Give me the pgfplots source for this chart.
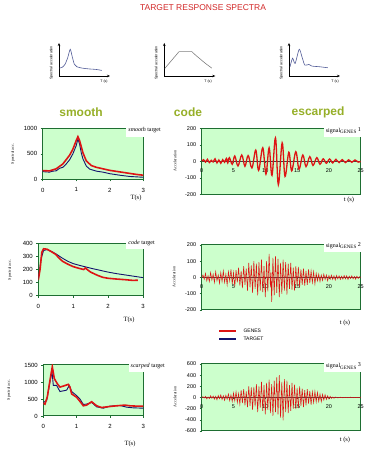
\documentclass[border=0pt]{standalone}
\usepackage{fontspec}
\setmainfont{Liberation Serif}
\setsansfont{Liberation Sans}
\usepackage{pgfplots}
\pgfplotsset{compat=1.18}
\usetikzlibrary{arrows.meta}
\definecolor{bggreen}{RGB}{204,255,204}
\definecolor{framegreen}{RGB}{30,110,50}
\definecolor{olivelab}{RGB}{150,175,40}
\definecolor{genesred}{RGB}{222,20,20}
\definecolor{targetblue}{RGB}{20,20,110}
\definecolor{titlered}{RGB}{210,40,40}
\definecolor{sketchblue}{RGB}{80,90,150}

\pgfplotsset{
  sketch/.style={scale only axis, anchor=south west, width=51pt, height=33pt,
    xmin=0, xmax=1, ymin=0, ymax=1, axis lines=left,
    axis line style={-{Stealth[length=3pt,width=2.5pt]}, line width=0.8pt},
    xtick=\empty, ytick=\empty, clip=false},
  panel/.style={scale only axis, anchor=south west,
    axis line style={framegreen, line width=1pt},
    tick style={framegreen, line width=0.5pt},
    tick align=outside, major tick length=2pt,
    /pgf/number format/1000 sep={},
    /pgf/number format/assume math mode=true},
  leftpanel/.style={panel,
    axis background/.style={fill=bggreen},
    xmin=0, xmax=3, xtick={0,1,2,3}, xtick pos=left, ytick pos=left,
    tick label style={font=\sffamily\fontsize{6}{7}\selectfont},
    xticklabel style={yshift=-3pt}},
  rightpanel/.style={panel,
    axis background/.style={fill=bggreen, draw=framegreen, line width=1pt},
    axis x line*=middle, axis y line*=left,
    x axis line style={black!75, line width=0.6pt},
    hide obscured x ticks=false,
    xmin=0, xmax=25, xtick={0,5,10,15,20,25},
    tick label style={font=\sffamily\fontsize{5.5}{6.5}\selectfont},
    xticklabel style={yshift=-2pt}},
}

\begin{document}
\begin{tikzpicture}[x=1pt,y=1pt]
\path (0,0) rectangle (385,457);

\node[text=titlered, font=\sffamily\fontsize{8.5}{10}\selectfont] at (203,449) {TARGET RESPONSE SPECTRA};

% ---------- sketches ----------
\begin{axis}[sketch, at={(59pt,381pt)}]
\addplot[sketchblue, line width=0.6pt, smooth, tension=0.4] coordinates {
(0.01,0.24)(0.07,0.27)(0.12,0.36)(0.17,0.55)(0.22,0.81)(0.26,0.58)(0.30,0.36)(0.35,0.28)(0.45,0.24)(0.55,0.22)(0.62,0.21)(0.72,0.20)(0.84,0.17)};
\end{axis}
\node[font=\sffamily\fontsize{3.6}{4}\selectfont] at (104,375.5) {T (s)};
\node[rotate=90, font=\sffamily\fontsize{3.6}{4}\selectfont] at (51.5,394) {Spectral acceleration};

\begin{axis}[sketch, at={(164.3pt,381pt)}]
\addplot[gray, line width=0.6pt] coordinates {
(0.01,0.23)(0.29,0.74)(0.54,0.74)};
\addplot[gray, line width=0.6pt, smooth] coordinates {
(0.54,0.74)(0.60,0.65)(0.70,0.52)(0.80,0.39)(0.93,0.24)};
\end{axis}
\node[font=\sffamily\fontsize{3.6}{4}\selectfont] at (208,375.5) {T (s)};
\node[rotate=90, font=\sffamily\fontsize{3.6}{4}\selectfont] at (156.5,394) {Spectral acceleration};

\begin{axis}[sketch, at={(289pt,381pt)}]
\addplot[sketchblue, line width=0.6pt, smooth, tension=0.4] coordinates {
(0.02,0.28)(0.07,0.54)(0.12,0.38)(0.20,0.81)(0.26,0.55)(0.31,0.33)(0.39,0.35)(0.45,0.30)(0.60,0.28)(0.76,0.25)};
\end{axis}
\node[font=\sffamily\fontsize{3.6}{4}\selectfont] at (335,375.5) {T (s)};
\node[rotate=90, font=\sffamily\fontsize{3.6}{4}\selectfont] at (281.5,394) {Spectral acceleration};

% ---------- column labels ----------
\node[text=olivelab, font=\sffamily\bfseries\fontsize{12}{14}\selectfont] at (81,345) {smooth};
\node[text=olivelab, font=\sffamily\bfseries\fontsize{12}{14}\selectfont] at (188,345) {code};
\node[text=olivelab, font=\sffamily\bfseries\fontsize{12}{14}\selectfont] at (318,345) {escarped};

% ---------- left row 1: smooth ----------
\begin{axis}[leftpanel, at={(42.7pt,277.7pt)}, width=100.6pt, height=51pt,
  ymin=0, ymax=1000, ytick={0,500,1000}]
\addplot[targetblue, line width=0.9pt] coordinates {
(0,150)(0.1,145)(0.2,140)(0.3,160)(0.4,165)(0.5,215)(0.6,235)(0.7,300)(0.8,380)(0.9,500)(1.0,660)(1.05,790)(1.1,690)(1.15,520)(1.2,400)(1.3,260)(1.4,200)(1.6,160)(1.8,140)(2.0,110)(2.3,80)(2.6,55)(3.0,40)};
\addplot[genesred, line width=1.6pt] coordinates {
(0,170)(0.2,165)(0.4,205)(0.6,300)(0.8,470)(0.9,590)(1.0,760)(1.05,835)(1.1,760)(1.2,520)(1.3,360)(1.45,270)(1.6,235)(1.8,205)(2.0,175)(2.3,145)(2.6,115)(2.8,95)(3.0,80)};
\end{axis}
\node[anchor=east, fill=white, inner xsep=2pt, minimum height=13pt, font=\fontsize{6}{7}\selectfont] at (163,326.5) {\textit{smooth} target};
\node[font=\fontsize{6.5}{7.5}\selectfont] at (136,259.5) {T(s)};
\node[rotate=90, font=\fontsize{4}{5}\selectfont] at (13,303) {Spectral acc.};

% ---------- left row 2: code ----------
\begin{axis}[leftpanel, at={(38.3pt,161.3pt)}, width=104.7pt, height=52.4pt,
  ymin=0, ymax=400, ytick={0,100,200,300,400}]
\addplot[targetblue, line width=0.9pt] coordinates {
(0,130)(0.08,280)(0.15,345)(0.25,352)(0.4,335)(0.5,320)(0.7,285)(0.85,262)(1.0,245)(1.2,230)(1.5,210)(1.75,195)(2.0,180)(2.25,168)(2.5,158)(2.75,148)(3.0,138)};
\addplot[genesred, line width=1.6pt] coordinates {
(0,120)(0.05,200)(0.1,330)(0.15,358)(0.25,355)(0.35,340)(0.5,315)(0.6,285)(0.7,262)(0.85,240)(1.0,222)(1.15,210)(1.3,200)(1.35,212)(1.4,200)(1.5,180)(1.7,155)(1.85,140)(2.0,133)(2.2,128)(2.5,122)(2.7,117)(2.85,118)};
\end{axis}
\node[anchor=east, fill=white, inner xsep=2pt, minimum height=11pt, font=\fontsize{6}{7}\selectfont] at (157,214) {\textit{code} target};
\node[font=\fontsize{6.5}{7.5}\selectfont] at (129,137) {T(s)};
\node[rotate=90, font=\fontsize{4}{5}\selectfont] at (10,187) {Spectral acc.};

% ---------- left row 3: scarped ----------
\begin{axis}[leftpanel, at={(43.3pt,41pt)}, width=100pt, height=51pt,
  ymin=0, ymax=1500, ytick={0,500,1000,1500}]
\addplot[targetblue, line width=0.9pt] coordinates {
(0,400)(0.1,450)(0.2,1000)(0.26,1320)(0.3,900)(0.4,900)(0.5,720)(0.6,740)(0.7,760)(0.78,900)(0.85,720)(1.0,600)(1.1,500)(1.2,340)(1.3,350)(1.45,400)(1.6,270)(1.8,230)(2.0,290)(2.3,310)(2.5,260)(2.7,240)(3.0,230)};
\addplot[genesred, line width=1.6pt] coordinates {
(0,380)(0.05,350)(0.12,560)(0.2,1050)(0.27,1450)(0.33,1100)(0.42,950)(0.5,850)(0.6,880)(0.75,930)(0.8,850)(0.85,650)(1.0,550)(1.1,430)(1.2,300)(1.3,320)(1.45,420)(1.6,300)(1.75,250)(2.0,280)(2.2,300)(2.45,320)(2.6,300)(2.8,290)(3.0,290)};
\end{axis}
\node[anchor=east, fill=white, inner xsep=2pt, minimum height=11pt, font=\fontsize{6}{7}\selectfont] at (167,91) {\textit{scarped} target};
\node[font=\fontsize{6.5}{7.5}\selectfont] at (130,13) {T(s)};
\node[rotate=90, font=\fontsize{4}{5}\selectfont] at (9,67) {Spectral acc.};

% ---------- right row 1 ----------
\begin{axis}[rightpanel, at={(201.7pt,262.7pt)}, width=159pt, height=66pt,
  ymin=-200, ymax=200, ytick={-200,-100,0,100,200}]
\addplot[genesred, line width=1.3pt, smooth, tension=0.6] coordinates {
(0,0)(0.3,10)(0.6,-5)(0.9,12)(1.2,-8)(1.5,6)(1.8,-4)(2.1,15)(2.4,-10)(2.7,8)(3.0,-12)(3.3,10)(3.6,-6)(3.9,18)(4.1,-10)
(4.35,22)(4.8,-18)(5.2,32)(5.7,-28)(6.3,38)(6.8,-30)(7.3,35)(7.9,-40)(8.5,68)(8.95,-55)(9.6,82)(10.1,-78)(10.6,82)(11.05,-85)
(11.6,142)(12.05,-142)(12.65,112)(13.1,-92)(13.7,55)(14.15,-58)(14.8,58)(15.3,-48)(15.9,38)(16.4,-32)(17.0,28)(17.5,-25)
(18.1,22)(18.6,-18)(19.1,15)(19.6,-12)(20.1,14)(20.6,-10)(21.1,12)(21.6,-8)(22.1,10)(22.6,-8)(23.1,9)(23.6,-6)(24.1,8)(24.6,-5)(25,0)};
\end{axis}
\node[anchor=east, fill=white, inner xsep=2pt, minimum height=13pt, font=\fontsize{6}{7}\selectfont] at (363,326.5) {signal\textsubscript{GENES}\,\raisebox{1pt}{1}};
\node[font=\fontsize{6.5}{7.5}\selectfont] at (349,257) {t (s)};
\node[rotate=90, font=\fontsize{4}{5}\selectfont] at (175,296) {Acceleration};

% ---------- right row 2 ----------
\begin{axis}[rightpanel, at={(201.7pt,147pt)}, width=159pt, height=65pt,
  ymin=-200, ymax=200, ytick={-200,-100,0,100,200}]
\addplot[genesred, line width=0.55pt] coordinates {
(0.0,0)(0.2,15)(0.4,-10)(0.6,25)(0.8,-20)(1.0,10)(1.2,-25)(1.4,30)(1.6,-15)(1.8,20)(2.0,-30)(2.2,35)(2.4,-20)(2.6,15)(2.8,-35)(3.0,30)
(3.2,-25)(3.4,40)(3.6,-30)(3.8,20)(4.0,-45)(4.2,35)(4.4,-20)(4.6,50)(4.8,-40)(5.0,30)(5.2,-55)(5.4,45)(5.6,-30)(5.8,60)(6.0,-50)
(6.2,40)(6.4,-65)(6.6,70)(6.8,-45)(7.0,55)(7.2,-80)(7.4,90)(7.6,-60)(7.8,75)(8.0,-95)(8.2,100)(8.4,-70)(8.6,85)(8.8,-110)(9.0,95)
(9.2,-80)(9.4,110)(9.6,-90)(9.8,70)(10.0,-120)(10.2,100)(10.4,-85)(10.6,145)(10.8,-60)(10.9,30)(11.0,-150)(11.2,120)(11.4,-110)
(11.6,130)(11.8,-95)(12.0,115)(12.2,-120)(12.4,90)(12.6,-100)(12.8,110)(13.0,-80)(13.2,95)(13.4,-105)(13.6,85)(13.8,-70)(14.0,90)
(14.2,-75)(14.4,60)(14.6,-80)(14.8,70)(15.0,-55)(15.2,65)(15.4,-60)(15.6,50)(15.8,-45)(16.0,55)(16.2,-50)(16.4,40)(16.6,-45)
(16.8,50)(17.0,-35)(17.2,40)(17.4,-30)(17.6,35)(17.8,-40)(18.0,25)(18.2,-20)(18.4,20)(18.6,-25)(18.8,15)(19.0,-18)(19.2,20)
(19.4,-12)(19.6,15)(19.8,-20)(20.0,12)(20.2,-10)(20.4,14)(20.6,-12)(20.8,10)(21.0,-15)(21.2,12)(21.4,-8)(21.6,10)(21.8,-12)
(22.0,8)(22.2,-10)(22.4,12)(22.6,-8)(22.8,10)(23.0,-12)(23.2,8)(23.4,-6)(23.6,10)(23.8,-8)(24.0,6)(24.2,-10)(24.4,8)(24.6,-6)(24.8,5)(25.0,0)};
\end{axis}
\node[anchor=east, fill=white, inner xsep=2pt, minimum height=13pt, font=\fontsize{6}{7}\selectfont] at (363,211.5) {signal\textsubscript{GENES}\,\raisebox{1pt}{2}};
\node[font=\fontsize{6.5}{7.5}\selectfont] at (345,134) {t (s)};
\node[rotate=90, font=\fontsize{4}{5}\selectfont] at (174,180) {Acceleration};

% legend
\draw[genesred, line width=1.2pt] (219,126) -- (236,126);
\node[anchor=west, font=\sffamily\fontsize{5}{6}\selectfont] at (240,126) {GENES};
\draw[targetblue, line width=1.2pt] (219,118) -- (236,118);
\node[anchor=west, font=\sffamily\fontsize{5}{6}\selectfont] at (240,118) {TARGET};

% ---------- right row 3 ----------
\begin{axis}[rightpanel, at={(201.7pt,26pt)}, width=159pt, height=67pt,
  ymin=-600, ymax=600, ytick={-600,-400,-200,0,200,400,600}]
\addplot[genesred, line width=0.55pt] coordinates {
(0,0)(0.2,15)(0.4,-10)(0.6,20)(0.8,-25)(1.0,10)(1.2,-20)(1.4,30)(1.6,-15)(1.8,25)(2.0,-30)(2.2,20)(2.4,-40)(2.6,35)(2.8,-20)(3.0,45)
(3.2,-35)(3.4,30)(3.6,-50)(3.8,40)(4.0,-30)(4.2,60)(4.4,-55)(4.6,45)(4.8,-70)(5.0,80)(5.2,-60)(5.4,100)(5.6,-90)(5.8,70)(6.0,-120)
(6.2,130)(6.4,-100)(6.6,150)(6.8,-140)(7.0,110)(7.2,-170)(7.4,200)(7.6,-150)(7.8,180)(8.0,-220)(8.2,190)(8.4,-160)(8.6,240)
(8.8,-260)(9.0,200)(9.2,-180)(9.4,280)(9.6,-240)(9.8,220)(10.0,-300)(10.2,260)(10.4,-220)(10.6,320)(10.8,-280)(11.0,240)
(11.2,-330)(11.4,300)(11.6,-260)(11.8,360)(12.0,-300)(12.2,400)(12.4,-360)(12.6,280)(12.8,-410)(13.0,330)(13.2,-260)(13.4,300)
(13.6,-280)(13.8,220)(14.0,-240)(14.2,260)(14.4,-200)(14.6,230)(14.8,-210)(15.0,170)(15.2,-190)(15.4,200)(15.6,-150)(15.8,160)
(16.0,-170)(16.2,130)(16.4,-140)(16.6,150)(16.8,-110)(17.0,120)(17.2,-130)(17.4,100)(17.6,-90)(17.8,110)(18.0,-80)(18.2,90)
(18.4,-70)(18.6,60)(18.8,-75)(19.0,55)(19.2,-45)(19.4,50)(19.6,-35)(19.8,30)(20.0,-25)(20.2,20)(20.4,-15)(20.6,10)(20.8,-12)
(21.0,8)(21.4,-6)(21.8,5)(22.2,-5)(22.6,4)(23.0,-4)(23.4,5)(23.8,-4)(24.2,3)(24.6,-3)(25,0)};
\end{axis}
\node[anchor=east, fill=white, inner xsep=2pt, minimum height=12pt, font=\fontsize{6}{7}\selectfont] at (363,91) {signal\textsubscript{GENES}\,\raisebox{1pt}{3}};
\node[font=\fontsize{6.5}{7.5}\selectfont] at (345,17) {t (s)};
\node[rotate=90, font=\fontsize{4}{5}\selectfont] at (175,60) {Acceleration};

\end{tikzpicture}
\end{document}
